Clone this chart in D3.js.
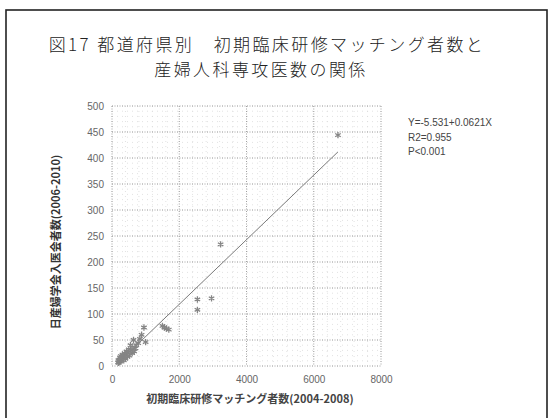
<!DOCTYPE html>
<html>
<head>
<meta charset="utf-8">
<script src="https://cdn.jsdelivr.net/npm/d3@7"></script>
<style>
  html, body { margin: 0; padding: 0; background: #fff; }
  svg { display: block; }
</style>
</head>
<body>
<svg id="chart" width="550" height="418"></svg>
<script>
// Matching counts per prefecture (2004-2008)
const matchCounts = [6720, 3230, 2960, 2540, 2540, 1500, 1560, 1620, 1690, 950,
  880, 830, 640, 780, 720, 700, 600, 560, 500, 470,
  430, 420, 380, 360, 340, 320, 300, 290, 270, 250,
  240, 230, 220, 210, 200, 190, 180, 520, 460, 400,
  350, 600, 660, 550, 310, 260, 1000];
// New JSOG members per prefecture (2006-2010)
const memberCounts = [444, 234, 130, 128, 108, 77, 74, 72, 70, 74,
  60, 52, 50, 44, 40, 34, 36, 30, 32, 26,
  28, 22, 24, 18, 20, 15, 17, 12, 14, 10,
  16, 8, 12, 9, 6, 11, 7, 20, 18, 14,
  11, 25, 28, 40, 22, 19, 46];

const xTicks = [0, 2000, 4000, 6000, 8000];
const yTicks = [0, 50, 100, 150, 200, 250, 300, 350, 400, 450, 500];
const fitIntercept = -5.531, fitSlope = 0.0621;
const statLines = ["Y=-5.531+0.0621X", "R2=0.955", "P<0.001"];
const titleLines = ["図17 都道府県別\u3000初期臨床研修マッチング者数と", "産婦人科専攻医数の関係"];
const xTitle = "初期臨床研修マッチング者数(2004-2008)";
const yTitle = "日産婦学会入医会者数(2006-2010)";

const svg = d3.select("#chart");
const cjk = "'Noto Sans CJK JP', 'Noto Sans', sans-serif";
const latin = "'Liberation Sans', Arial, sans-serif";

// outer frame
svg.append("rect").attr("x", 6).attr("y", 10).attr("width", 541).attr("height", 420)
  .attr("fill", "none").attr("stroke", "#222").attr("stroke-width", 1.6);

// two-line title
svg.append("g").selectAll("text").data(titleLines).join("text")
  .attr("text-anchor", "middle")
  .attr("x", (d, i) => i === 0 ? 267 : 261)
  .attr("y", (d, i) => 51 + i * 25)
  .attr("font-family", cjk).attr("font-size", 17).attr("font-weight", 300)
  .attr("letter-spacing", 2.4).attr("fill", "#222")
  .text(d => d);

const plotL = 112, plotR = 381, plotT = 106, plotB = 366;
const x = d3.scaleLinear().domain([0, 8000]).range([plotL, plotR]);
const y = d3.scaleLinear().domain([0, 500]).range([plotB, plotT]);

// minor grid
const grid = svg.append("g");
grid.append("g").selectAll("line").data(d3.range(0, 8001, 400)).join("line")
  .attr("x1", d => x(d)).attr("x2", d => x(d)).attr("y1", plotT).attr("y2", plotB)
  .attr("stroke", "#dadada").attr("stroke-width", 0.8).attr("stroke-dasharray", "1,4");
grid.append("g").selectAll("line").data(d3.range(0, 501, 10)).join("line")
  .attr("y1", d => y(d)).attr("y2", d => y(d)).attr("x1", plotL).attr("x2", plotR)
  .attr("stroke", "#dadada").attr("stroke-width", 0.8).attr("stroke-dasharray", "1,4");
// major grid
grid.append("g").selectAll("line").data(xTicks).join("line")
  .attr("x1", d => x(d)).attr("x2", d => x(d)).attr("y1", plotT).attr("y2", plotB)
  .attr("stroke", "#a0a0a0").attr("stroke-width", 1).attr("stroke-dasharray", "1,1.5");
grid.append("g").selectAll("line").data(yTicks).join("line")
  .attr("y1", d => y(d)).attr("y2", d => y(d)).attr("x1", plotL).attr("x2", plotR)
  .attr("stroke", "#a0a0a0").attr("stroke-width", 1).attr("stroke-dasharray", "1,1.5");

// tick labels via d3 axes (domain lines removed)
const yAxis = svg.append("g").attr("transform", `translate(${plotL},0)`)
  .call(d3.axisLeft(y).tickValues(yTicks).tickSize(0).tickPadding(8));
const xAxis = svg.append("g").attr("transform", `translate(0,${plotB})`)
  .call(d3.axisBottom(x).tickValues(xTicks).tickSize(0).tickPadding(10).tickFormat(d3.format("d")));
[yAxis, xAxis].forEach(a => {
  a.select(".domain").remove();
  a.selectAll("text").attr("font-family", latin).attr("font-size", 10).attr("fill", "#666");
});

// regression line
const xs = d3.extent(matchCounts);
svg.append("line")
  .attr("x1", x(xs[0])).attr("y1", y(fitIntercept + fitSlope * xs[0]))
  .attr("x2", x(xs[1])).attr("y2", y(fitIntercept + fitSlope * xs[1]))
  .attr("stroke", "#7a7a7a").attr("stroke-width", 1);

// points
const star = d3.symbol().type(d3.symbolAsterisk).size(28);
svg.append("g").selectAll("path").data(matchCounts).join("path")
  .attr("transform", (d, i) => `translate(${x(d)},${y(memberCounts[i])})`)
  .attr("d", star)
  .attr("fill", "none").attr("stroke", "#858585").attr("stroke-width", 1.3);

// regression stats
svg.append("g").selectAll("text").data(statLines).join("text")
  .attr("x", 408).attr("y", (d, i) => 126 + i * 14.5)
  .attr("font-family", latin).attr("font-size", 10).attr("fill", "#444")
  .text(d => d);

// axis titles
svg.append("text").attr("x", 250).attr("y", 403).attr("text-anchor", "middle")
  .attr("font-family", cjk).attr("font-size", 11).attr("font-weight", "bold").attr("fill", "#444")
  .text(xTitle);
svg.append("text").attr("transform", "translate(60,242) rotate(-90)").attr("text-anchor", "middle")
  .attr("font-family", cjk).attr("font-size", 11).attr("font-weight", "bold").attr("fill", "#333")
  .text(yTitle);
</script>
</body>
</html>
